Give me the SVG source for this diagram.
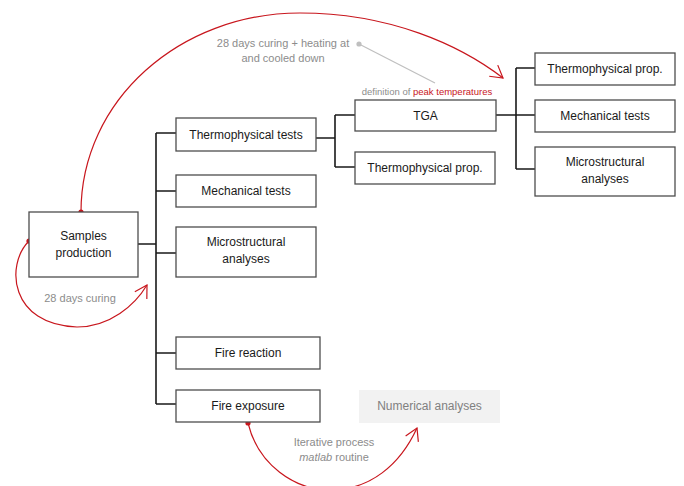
<svg xmlns="http://www.w3.org/2000/svg" width="684" height="486" viewBox="0 0 684 486">
<defs>
<style>
.box{fill:#fff;stroke:#4d4d4d;stroke-width:1.3}
.t{font-family:"Liberation Sans",Arial,sans-serif;font-size:12px;fill:#1a1a1a;text-anchor:middle}
.g{font-family:"Liberation Sans",Arial,sans-serif;font-size:11px;fill:#8c8c8c;text-anchor:middle}
.conn{fill:none;stroke:#1a1a1a;stroke-width:1.6}
.red{fill:none;stroke:#c8161d;stroke-width:1.2}
.dot{fill:#c8161d}
</style>
<marker id="arr" viewBox="-15 -9 18 18" refX="0" refY="0" markerWidth="18" markerHeight="18" orient="auto" markerUnits="userSpaceOnUse">
<path d="M-12,-7 L0,0 L-12,7" fill="none" stroke="#c8161d" stroke-width="1.2"/>
</marker>
</defs>
<rect width="684" height="486" fill="#fff"/>

<g id="connectors">
<path class="conn" d="M138,244 H156 M156,133 V404 M156,133 H176 M156,191 H176 M156,253 H176 M156,353 H176 M156,404 H176"/>
<path class="conn" d="M316,138 H335 M335,115 V167 M335,115 H355 M335,167 H355"/>
<path class="conn" d="M496,115 H535 M516,68 V169 M516,68 H535 M516,169 H535"/>
<path class="red" d="M81,212 C81,100 180,13 300,13 C390,13 460,45 503,78" marker-end="url(#arr)"/>
<path class="red" d="M29,241 C5,265 10,325 77,327 C110,327 135,305 147,285" marker-end="url(#arr)"/>
<path class="red" d="M248,423 C258,465 295,490 330,490 C370,490 400,465 417,428" marker-end="url(#arr)"/>
<circle class="dot" cx="81" cy="212" r="2.6"/>
<circle class="dot" cx="29" cy="241" r="2.6"/>
<circle class="dot" cx="248" cy="423" r="2.6"/>
<line x1="359" y1="44" x2="435" y2="83" stroke="#bfbfbf" stroke-width="1.2"/>
<circle cx="359" cy="44" r="2.6" fill="#bfbfbf"/>
</g>

<g id="labels">
<text class="g" x="283" y="47">28 days curing + heating at</text>
<text class="g" x="283" y="62">and cooled down</text>
<text x="427" y="95" style="font-family:'Liberation Sans',Arial,sans-serif;font-size:9.5px;fill:#8c8c8c;text-anchor:middle">definition of <tspan fill="#c8161d">peak temperatures</tspan></text>
<text class="g" x="80" y="302">28 days curing</text>
<text class="g" x="334" y="446">Iterative process</text>
<text class="g" x="334" y="461"><tspan font-style="italic">matlab</tspan> routine</text>
</g>

<g id="samples"><rect class="box" x="29" y="212" width="109" height="65"/><text class="t" x="83.5" y="240">Samples</text><text class="t" x="83.5" y="257">production</text></g>
<g id="thermo-tests"><rect class="box" x="176" y="118" width="140" height="33"/><text class="t" x="246" y="138.5">Thermophysical tests</text></g>
<g id="mech-tests"><rect class="box" x="176" y="175" width="140" height="32"/><text class="t" x="246" y="195">Mechanical tests</text></g>
<g id="micro"><rect class="box" x="176" y="227" width="140" height="50"/><text class="t" x="246" y="246">Microstructural</text><text class="t" x="246" y="263">analyses</text></g>
<g id="fire-reaction"><rect class="box" x="176" y="337" width="144" height="32"/><text class="t" x="248" y="357">Fire reaction</text></g>
<g id="fire-exposure"><rect class="box" x="176" y="390" width="144" height="32"/><text class="t" x="248" y="410">Fire exposure</text></g>
<g id="tga"><rect class="box" x="355" y="100" width="141" height="31"/><text class="t" x="425.5" y="119.5">TGA</text></g>
<g id="thermo-prop-1"><rect class="box" x="355" y="152" width="140" height="32"/><text class="t" x="425" y="172">Thermophysical prop.</text></g>
<g id="thermo-prop-2"><rect class="box" x="535" y="53" width="140" height="32"/><text class="t" x="605" y="73">Thermophysical prop.</text></g>
<g id="mech-tests-2"><rect class="box" x="535" y="100" width="140" height="32"/><text class="t" x="605" y="120">Mechanical tests</text></g>
<g id="micro-2"><rect class="box" x="535" y="147" width="140" height="49"/><text class="t" x="605" y="166">Microstructural</text><text class="t" x="605" y="183">analyses</text></g>
<g id="numerical"><rect x="359" y="390" width="141" height="33" fill="#f2f2f2"/><text x="429.5" y="410" style="font-family:'Liberation Sans',Arial,sans-serif;font-size:12px;fill:#808080;text-anchor:middle">Numerical analyses</text></g>
</svg>
